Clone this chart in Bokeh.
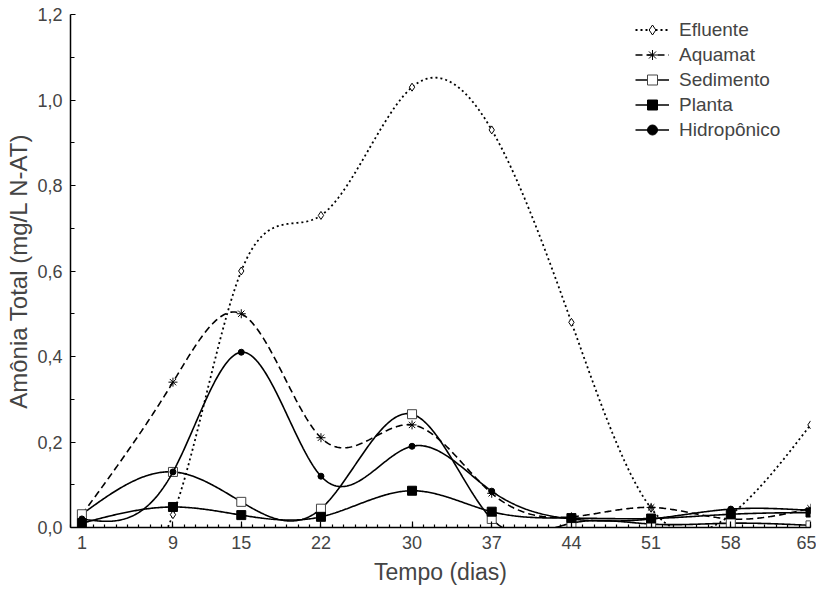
import numpy as np
from bokeh.plotting import figure
from bokeh.models import (Range1d, FixedTicker, CustomJSTickFormatter, Legend, LegendItem,
                          ColumnDataSource)
from bokeh.embed import file_html
from bokeh.resources import INLINE

# ---------------- data ----------------
dias = [1, 9, 15, 22, 30, 37, 44, 51, 58, 65]
efluente = [0.01, 0.03, 0.60, 0.73, 1.03, 0.93, 0.48, 0.045, 0.03, 0.24]
aquamat = [0.03, 0.34, 0.50, 0.21, 0.24, 0.08, 0.025, 0.047, 0.02, 0.045]
sedimento = [0.031, 0.13, 0.06, 0.044, 0.265, 0.02, 0.01, 0.008, 0.01, 0.005]
planta = [0.01, 0.048, 0.029, 0.025, 0.086, 0.037, 0.022, 0.021, 0.031, 0.035]
hidroponico = [0.02, 0.13, 0.41, 0.12, 0.19, 0.085, 0.02, 0.02, 0.043, 0.04]

x_ticks = [1, 9, 15, 22, 30, 37, 44, 51, 58, 65]
y_ticks = [0.0, 0.2, 0.4, 0.6, 0.8, 1.0, 1.2]
y_minor = [0.1, 0.3, 0.5, 0.7, 0.9, 1.1]

FONT = "Liberation Sans"


def natural_spline(x, y, n=600):
    """Smooth (natural cubic spline) line through the data points."""
    x = np.asarray(x, float)
    y = np.asarray(y, float)
    h = np.diff(x)
    m = len(x)
    A = np.zeros((m, m))
    r = np.zeros(m)
    A[0, 0] = 1.0
    A[-1, -1] = 1.0
    for i in range(1, m - 1):
        A[i, i - 1] = h[i - 1]
        A[i, i] = 2 * (h[i - 1] + h[i])
        A[i, i + 1] = h[i]
        r[i] = 6 * ((y[i + 1] - y[i]) / h[i] - (y[i] - y[i - 1]) / h[i - 1])
    M = np.linalg.solve(A, r)
    xs = np.linspace(x[0], x[-1], n)
    idx = np.clip(np.searchsorted(x, xs) - 1, 0, m - 2)
    x0, x1 = x[idx], x[idx + 1]
    y0, y1 = y[idx], y[idx + 1]
    M0, M1 = M[idx], M[idx + 1]
    hh = x1 - x0
    a = (x1 - xs) / hh
    b = (xs - x0) / hh
    ys = a * y0 + b * y1 + ((a ** 3 - a) * M0 + (b ** 3 - b) * M1) * hh ** 2 / 6
    return xs, ys


p = figure(frame_width=740, frame_height=513, output_backend="svg", toolbar_location=None,
           x_range=Range1d(0, 65), y_range=Range1d(0, 1.2),
           min_border_left=70, min_border_right=6, min_border_top=14, min_border_bottom=62)
p.outline_line_color = None
p.xgrid.visible = False
p.ygrid.visible = False
p.background_fill_color = "white"
p.border_fill_color = "white"

series = [
    ("Efluente", efluente, dict(line_dash="2 3", line_width=1.8),
     dict(marker="diamond", size=8, fill_color="white", line_color="black", line_width=1)),
    ("Aquamat", aquamat, dict(line_dash="7 4", line_width=1.6),
     dict(marker="asterisk", size=9, line_color="black", line_width=1)),
    ("Sedimento", sedimento, dict(line_width=1.6),
     dict(marker="square", size=9, fill_color="white", line_color="#444444", line_width=1)),
    ("Planta", planta, dict(line_width=1.6),
     dict(marker="square", size=9, fill_color="black", line_color="black", line_width=1)),
    ("Hidropônico", hidroponico, dict(line_width=1.6),
     dict(marker="circle", size=6, fill_color="black", line_color="black", line_width=1)),
]

items = []
for name, vals, lkw, mkw in series:
    xs, ys = natural_spline(dias, vals)
    lr = p.line(xs, ys, line_color="black", **lkw)
    src = ColumnDataSource(dict(x=dias, y=vals))
    mr = p.scatter("x", "y", source=src, **mkw)
    items.append(LegendItem(label=name, renderers=[lr, mr]))

legend = Legend(items=items, location=(565, 385), border_line_color=None,
                background_fill_alpha=0, padding=0, spacing=0,
                glyph_width=34, glyph_height=25, label_standoff=10,
                label_text_font=FONT, label_text_font_size="19px", label_height=25)
p.add_layout(legend)

# axes
xa = p.xaxis[0]
xa.ticker = FixedTicker(ticks=x_ticks, minor_ticks=list(range(0, 66)))
xa.major_tick_in = 6
xa.major_tick_out = 0
xa.minor_tick_in = 3
xa.minor_tick_out = 0
xa.axis_line_width = 1.5
xa.major_tick_line_width = 1.2
xa.minor_tick_line_width = 1.2
xa.major_label_text_font = FONT
xa.major_label_text_font_size = "18px"
xa.major_label_standoff = 8
xa.axis_label = "Tempo (dias)"
xa.axis_label_text_font = FONT
xa.axis_label_text_font_size = "23px"
xa.axis_label_text_font_style = "normal"
xa.axis_label_standoff = 7

ya = p.yaxis[0]
ya.ticker = FixedTicker(ticks=y_ticks, minor_ticks=y_minor)
ya.formatter = CustomJSTickFormatter(code="return tick.toFixed(1).replace('.', ',');")
ya.major_tick_in = 5
ya.major_tick_out = 0
ya.minor_tick_in = 4
ya.minor_tick_out = 0
ya.axis_line_width = 1.5
ya.major_tick_line_width = 1.2
ya.minor_tick_line_width = 1.2
ya.major_label_text_font = FONT
ya.major_label_text_font_size = "18px"
ya.major_label_standoff = 8
ya.axis_label = "Amônia Total (mg/L N-AT)"
ya.axis_label_text_font = FONT
ya.axis_label_text_font_size = "24px"
ya.axis_label_text_font_style = "normal"
ya.axis_label_standoff = 2

open("out.html", "w").write(file_html(p, INLINE))
